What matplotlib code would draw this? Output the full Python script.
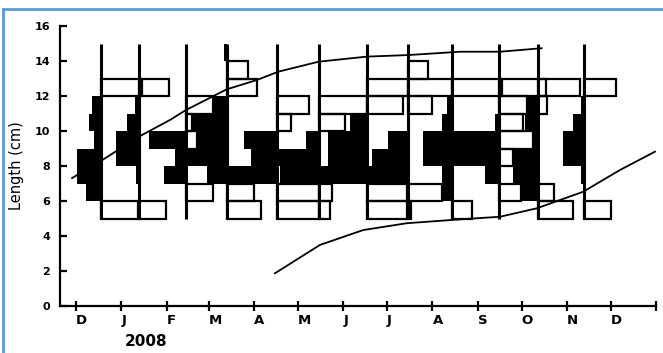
import numpy as np
import matplotlib
matplotlib.use("Agg")
import matplotlib.pyplot as plt
from matplotlib.lines import Line2D

# days counted from 1 Dec 2007
month_days = [0, 31, 62, 91, 122, 152, 183, 213, 244, 275, 305, 336, 366, 397]
month_labels = ["D", "J", "F", "M", "A", "M", "J", "J", "A", "S", "O", "N", "D", ""]

# sampling dates (days) and 1 cm length classes 5-6 ... 14-15
sample_days = [17.1, 42.9, 75.3, 103.1, 137.8, 166.5, 199.0, 227.4, 257.2, 289.7, 315.9, 347.9]
class_low = [5, 6, 7, 8, 9, 10, 11, 12, 13, 14]

# black bars (drawn to the left of each sample line)
black_bars = [
    [0, 10.5, 16.6, 16.6, 4.8, 8.0, 6.4, 0, 0, 0],
    [0, 0, 2.1, 15.5, 15.5, 8.2, 2.4, 0, 0, 0],
    [0, 0, 15.1, 7.5, 25.3, 0, 0, 0, 0, 0],
    [0, 0, 13.7, 28.1, 20.5, 24.0, 9.6, 0, 0, 1.7],
    [0, 0, 34.2, 17.8, 22.6, 0, 0, 0, 0, 0],
    [0, 0, 26.7, 28.7, 9.4, 0, 0, 0, 0, 0],
    [0, 0, 32.2, 26.3, 26.3, 11.6, 0, 0, 0, 0],
    [0, 0, 27.4, 25.1, 13.7, 0, 0, 0, 0, 0],
    [0, 6.2, 6.8, 19.4, 19.4, 6.8, 3.4, 0, 0, 0],
    [0, 0, 9.8, 32.6, 32.6, 2.9, 0, 0, 0, 0],
    [0, 11.0, 16.7, 16.7, 3.0, 8.7, 6.2, 0, 0, 0],
    [0, 0, 2.5, 14.8, 14.8, 7.5, 2.1, 0, 0, 0],
]
# white bars (drawn to the right of each sample line)
white_bars = [
    [25.3, 0, 0, 0, 0, 0, 0, 28.1, 0, 0],
    [18.5, 0, 0, 0, 0, 0, 0, 20.5, 0, 0],
    [0, 18.5, 0, 0, 7.3, 3.9, 18.3, 0, 0, 0],
    [23.3, 18.5, 0, 0, 0, 0, 0, 20.5, 14.4, 0],
    [28.7, 28.7, 0, 0, 0, 9.6, 21.9, 0, 0, 0],
    [7.5, 8.9, 0, 0, 0, 17.8, 32.9, 0, 0, 0],
    [27.4, 27.4, 0, 0, 0, 0, 24.6, 28.5, 0, 0],
    [2.1, 23.3, 0, 0, 0, 0, 16.0, 29.7, 13.7, 0],
    [13.7, 0, 0, 0, 0, 0, 0, 34.2, 0, 0],
    [0, 15.1, 0, 9.6, 23.3, 16.4, 19.2, 32.0, 0, 0],
    [24.0, 11.0, 0, 0, 0, 0, 6.8, 29.2, 0, 0],
    [18.5, 0, 0, 0, 0, 0, 0, 21.9, 0, 0],
]

# growth curves
curve1_day = [-2.7, 17.1, 42.9, 64.3, 75.3, 103.1, 123.7, 138.5, 166.1, 199.0, 227.4, 262.8, 290.2, 318.7]
curve1_len = [7.31, 8.29, 9.67, 10.63, 11.2, 12.38, 12.91, 13.39, 13.96, 14.25, 14.34, 14.53, 14.53, 14.73]
curve2_day = [136.2, 167.0, 196.6, 226.4, 262.8, 290.2, 315.3, 347.2, 372.3, 396.3]
curve2_len = [1.87, 3.49, 4.34, 4.73, 4.95, 5.10, 5.58, 6.53, 7.77, 8.82]

plt.rcParams["font.family"] = ["DejaVu Sans"]

W, H = 663, 353
fig = plt.figure(figsize=(W / 100, H / 100), dpi=100)
ax = fig.add_axes([60 / W, 1 - 306 / H, (656 - 60) / W, 280 / H])
ax.set_xlim(-10.95, 397)
ax.set_ylim(0, 16)

for i, day in enumerate(sample_days):
    for j, lo in enumerate(class_low):
        b = black_bars[i][j]
        w = white_bars[i][j]
        if b > 0:
            ax.barh(lo, b, left=day - b, height=1, align="edge", color="black", lw=0, zorder=2)
        if w > 0:
            ax.barh(lo, w, left=day, height=1, align="edge", facecolor="none",
                    edgecolor="black", lw=1.6, zorder=3)
    ax.plot([day, day], [5, 15], color="black", lw=2.2, zorder=4, solid_capstyle="butt")

ax.plot(curve1_day, curve1_len, color="black", lw=1.3, zorder=5)
ax.plot(curve2_day, curve2_len, color="black", lw=1.3, zorder=5)

ax.spines["top"].set_visible(False)
ax.spines["right"].set_visible(False)
ax.spines["left"].set_linewidth(1.6)
ax.spines["bottom"].set_linewidth(1.6)

ax.set_yticks(range(0, 17, 2))
ax.set_xticks(month_days)
ax.set_xticklabels(month_labels)
ax.tick_params(axis="y", direction="in", length=5, width=1.6, pad=7, labelsize=8)
ax.tick_params(axis="x", direction="inout", length=7, width=1.6, pad=2, labelsize=9.5)
for lab in ax.get_xticklabels() + ax.get_yticklabels():
    lab.set_fontweight("bold")
for lab in ax.get_xticklabels():
    lab.set_horizontalalignment("left")

ax.set_ylabel("Length (cm)", fontsize=10.5, labelpad=8)
fig.text(146 / W, 1 - 342 / H, "2008", ha="center", va="center", fontsize=11, fontweight="bold")

# partial blue frame around the picture
blue = "#5b9bd5"
fig.add_artist(Line2D([3 / W, 3 / W], [0, 1 - 9 / H], transform=fig.transFigure, color=blue, lw=2))
fig.add_artist(Line2D([3 / W, 1], [1 - 9 / H, 1 - 9 / H], transform=fig.transFigure, color=blue, lw=2))

fig.savefig("out.png", dpi=100)
